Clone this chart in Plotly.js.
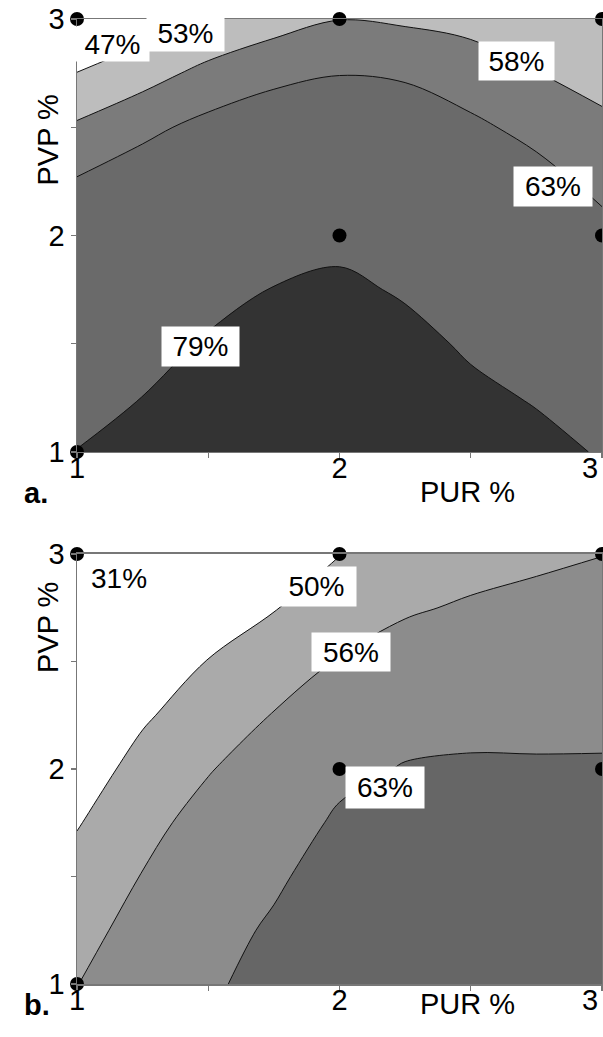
<!DOCTYPE html>
<html>
<head>
<meta charset="utf-8">
<script src="https://cdn.plot.ly/plotly-3.0.1.min.js"></script>
<style>
  html, body { margin: 0; padding: 0; background: #ffffff; }
  #chart { width: 603px; height: 1037px; }
</style>
</head>
<body>
<div id="chart"></div>
<script>
// Design grid (PUR %, PVP %)
const PUR = [1, 1.25, 1.5, 1.75, 2, 2.25, 2.5, 2.75, 3];
const PVP = [1, 1.25, 1.5, 1.75, 2, 2.25, 2.5, 2.75, 3];

// Panel a: response surface, one row per PVP value (1 -> 3), columns follow PUR
const responseA = [
  [79.2, 82.3, 86.5, 90.5, 92.5, 89.5, 84.5, 81.7, 78.3],
  [75.9, 79.1, 83.2, 87.0, 89.0, 85.7, 81.1, 78.3, 74.9],
  [72.8, 75.7, 79.9, 83.5, 85.4, 81.8, 77.7, 74.9, 71.5],
  [69.7, 72.3, 76.0, 79.3, 80.9, 78.0, 74.2, 71.6, 68.0],
  [66.5, 69.0, 72.1, 75.0, 76.4, 74.1, 70.8, 68.2, 64.6],
  [63.4, 65.7, 68.3, 70.7, 71.9, 70.2, 67.4, 64.8, 61.6],
  [58.7, 61.8, 64.4, 66.3, 67.3, 66.3, 64.0, 61.5, 59.0],
  [53.1, 56.0, 59.4, 61.6, 62.8, 62.3, 60.3, 58.1, 56.4],
  [47.0, 50.3, 53.3, 56.0, 57.9, 57.3, 56.6, 54.8, 53.7]
];
const levelsA = [53, 58, 63, 79];

// Panel b: response surface
const responseB = [
  [55.9, 59.4, 61.9, 65.5, 68.0, 68.3, 67.5, 66.5, 65.0],
  [54.1, 58.0, 60.6, 63.9, 66.9, 67.8, 67.0, 66.3, 65.4],
  [52.2, 56.2, 59.2, 62.0, 65.9, 66.8, 66.2, 65.8, 65.3],
  [49.6, 54.5, 57.8, 60.3, 63.8, 65.3, 65.2, 65.0, 64.8],
  [46.4, 52.4, 55.7, 58.6, 61.7, 63.3, 63.6, 63.5, 63.5],
  [42.7, 49.1, 53.6, 56.2, 59.1, 61.1, 61.6, 61.7, 61.8],
  [38.8, 45.5, 50.2, 53.3, 56.3, 58.3, 59.2, 59.7, 60.0],
  [34.8, 41.2, 46.5, 49.7, 53.3, 55.4, 56.6, 57.4, 58.0],
  [31.0, 36.5, 42.0, 46.2, 49.9, 52.5, 54.0, 55.0, 55.9]
];
const levelsB = [50, 56, 63];

// Experimental runs (PUR %, PVP %)
const runsPUR = [1, 2, 3, 2, 3, 1];
const runsPVP = [3, 3, 3, 2, 2, 1];

// Axis ticks
const tickValues = [1, 1.5, 2, 2.5, 3];
const tickLabels = ['1', '', '2', '', '3'];

// Styling
const fillsA = ['#bdbdbd', '#7b7b7b', '#6a6a6a', '#333333'];
const fillsB = ['#aaaaaa', '#8c8c8c', '#666666'];
const FONT = 'Liberation Sans, Arial, sans-serif';

// Each level shades everything above it, so stacking them gives the bands
function bands(z, levels, fills, xa, ya) {
  return levels.map((lv, i) => ({
    type: 'contour',
    x: PUR, y: PVP, z: z,
    xaxis: xa, yaxis: ya,
    contours: { type: 'constraint', operation: '<', value: lv },
    fillcolor: fills[i],
    line: { color: '#111111', width: 1, smoothing: 1 },
    showscale: false, showlegend: false, hoverinfo: 'skip'
  }));
}

function runs(xa, ya) {
  return {
    type: 'scatter', mode: 'markers',
    x: runsPUR, y: runsPVP, xaxis: xa, yaxis: ya,
    marker: { color: '#000000', size: 14 },
    cliponaxis: false, showlegend: false, hoverinfo: 'skip'
  };
}

const data = [
  ...bands(responseA, levelsA, fillsA, 'x', 'y'), runs('x', 'y'),
  ...bands(responseB, levelsB, fillsB, 'x2', 'y2'), runs('x2', 'y2')
];

const axisBase = {
  range: [1, 3], tickmode: 'array', tickvals: tickValues,
  ticks: 'outside', ticklen: 5, tickwidth: 1.2, tickcolor: '#777777',
  showline: true, linecolor: '#777777', linewidth: 1.5, mirror: true,
  showgrid: false, zeroline: false,
  tickfont: { family: FONT, size: 29, color: '#000000' }
};
// The last x label would straddle the page edge; it is drawn as a
// right-anchored note instead so it stays fully inside the page.
const lastX = tickLabels.length - 1;
const xAxisBase = Object.assign({}, axisBase, {
  ticktext: tickLabels.map((t, i) => (i === lastX ? '' : t)),
  ticklabelstandoff: -15
});
const yAxisBase = Object.assign({}, axisBase, { ticktext: tickLabels });

function boxLabel(text, x, y, xref, yref, w, h) {
  return {
    text: text, x: x, y: y, xref: xref, yref: yref,
    showarrow: false, bgcolor: '#ffffff', width: w, height: h,
    font: { family: FONT, size: 28, color: '#000000' }
  };
}

function plainText(text, x, y, opts) {
  return Object.assign({
    text: text, x: x, y: y, xref: 'paper', yref: 'paper',
    showarrow: false, font: { family: FONT, size: 29, color: '#000000' }
  }, opts || {});
}

const cornerA = Math.round(responseA[responseA.length - 1][0]) + '%';
const cornerB = Math.round(responseB[responseB.length - 1][0]) + '%';

const annotations = [
  // panel a labels
  boxLabel(cornerA, 1.135, 2.885, 'x', 'y', 71, 32),
  boxLabel(levelsA[0] + '%', 1.413, 2.933, 'x', 'y', 75, 33),
  boxLabel(levelsA[1] + '%', 2.674, 2.806, 'x', 'y', 73, 36),
  boxLabel(levelsA[2] + '%', 2.813, 2.226, 'x', 'y', 76, 37),
  boxLabel(levelsA[3] + '%', 1.470, 1.487, 'x', 'y', 75, 37),
  // panel b labels
  { text: cornerB, x: 1.16, y: 2.884, xref: 'x2', yref: 'y2', showarrow: false,
    font: { family: FONT, size: 28, color: '#000000' } },
  boxLabel(levelsB[0] + '%', 1.912, 2.847, 'x2', 'y2', 77, 37),
  boxLabel(levelsB[1] + '%', 2.044, 2.544, 'x2', 'y2', 76, 36),
  boxLabel(levelsB[2] + '%', 2.173, 1.914, 'x2', 'y2', 76, 39),
  // end-of-axis x labels
  plainText(tickLabels[lastX], 0.9962, 0.5347, { xanchor: 'right', yanchor: 'middle' }),
  plainText(tickLabels[lastX], 0.9962, -0.0166, { xanchor: 'right', yanchor: 'middle' }),
  // axis titles and panel tags
  plainText('PVP %', -0.0895, 0.9233, { textangle: -90 }),
  plainText('PVP %', -0.0895, 0.3689, { textangle: -90 }),
  plainText('PUR %', 0.838, 0.5098),
  plainText('PUR %', 0.838, -0.0394),
  plainText('<b>a.</b>', -0.1048, 0.5088),
  plainText('<b>b.</b>', -0.1048, -0.0404)
];

const layout = {
  width: 603, height: 1037,
  margin: { l: 77, r: 1, t: 19, b: 53 },
  paper_bgcolor: '#ffffff', plot_bgcolor: '#ffffff',
  showlegend: false,
  xaxis: Object.assign({}, xAxisBase, { anchor: 'y', domain: [0, 1] }),
  yaxis: Object.assign({}, yAxisBase, { anchor: 'x', domain: [0.5513, 1] }),
  xaxis2: Object.assign({}, xAxisBase, { anchor: 'y2', domain: [0, 1] }),
  yaxis2: Object.assign({}, yAxisBase, { anchor: 'x2', domain: [0, 0.4456] }),
  annotations: annotations
};

Plotly.newPlot('chart', data, layout, { staticPlot: true, displayModeBar: false });
</script>
</body>
</html>
